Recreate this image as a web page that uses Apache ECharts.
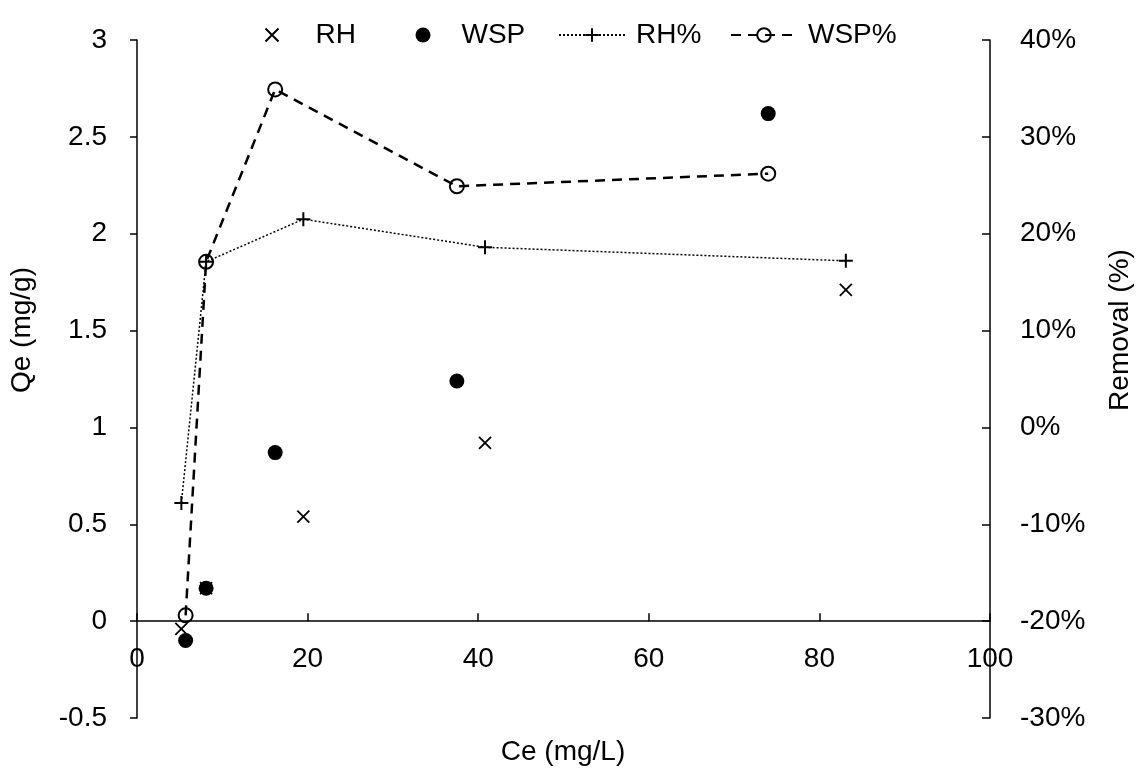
<!DOCTYPE html>
<html>
<head>
<meta charset="utf-8">
<script src="https://cdn.jsdelivr.net/npm/echarts@6/dist/echarts.min.js"></script>
<style>
html,body{margin:0;padding:0;background:#fff;}
#chart{width:1143px;height:773px;}
</style>
</head>
<body>
<div id="chart"></div>
<script>
// Data
const rhCe = [5.2, 8.1, 19.5, 40.8, 83.1];
const rhQe = [-0.04, 0.17, 0.54, 0.92, 1.71];
const rhRemoval = [-7.8, 17.1, 21.5, 18.6, 17.2];
const wspCe = [5.7, 8.1, 16.2, 37.5, 74.0];
const wspQe = [-0.10, 0.17, 0.87, 1.24, 2.62];
const wspRemoval = [-19.4, 17.1, 34.9, 24.9, 26.2];
const xTicks = { min: 0, max: 100, interval: 20 };
const qeTicks = { min: -0.5, max: 3, interval: 0.5 };
const remTicks = { min: -30, max: 40, interval: 10 };
const seriesNames = ['RH', 'WSP', 'RH%', 'WSP%'];

const pairs = (xs, ys) => xs.map((x, i) => [x, ys[i]]);
const FONT = 'Liberation Sans, Arial, sans-serif';
const FS = 28;
const crossPath = 'path://M0,0L10,10M10,0L0,10';
const plusPath = 'path://M5,0L5,10M0,5L10,5';

const GRID = { left: 137, right: 153, top: 40, bottom: 55 };
const plotH = 773 - GRID.top - GRID.bottom;
// x axis sits where Qe = 0
const zeroOffset = -plotH * (0 - qeTicks.min) / (qeTicks.max - qeTicks.min);

const chart = echarts.init(document.getElementById('chart'), null, { renderer: 'canvas' });
const lt = pad => ({ fontFamily: FONT, fontSize: FS, color: '#000', padding: [0, 0, 0, pad] });
chart.setOption({
  backgroundColor: '#fff',
  animation: false,
  grid: Object.assign({ containLabel: false }, GRID),
  legend: [
    { data: [seriesNames[0]], left: 264.5, top: 21, padding: 0, itemWidth: 13, itemHeight: 13, textStyle: lt(32) },
    { data: [seriesNames[1]], left: 415.5, top: 21, padding: 0, itemWidth: 15, itemHeight: 15, textStyle: lt(26) },
    { data: [seriesNames[2]], left: 558, top: 21, padding: 0, itemWidth: 66, itemHeight: 17, textStyle: lt(6) },
    { data: [seriesNames[3]], left: 730, top: 21, padding: 0, itemWidth: 66, itemHeight: 17, textStyle: lt(6) }
  ],
  xAxis: {
    type: 'value', min: xTicks.min, max: xTicks.max, interval: xTicks.interval,
    position: 'bottom', offset: zeroOffset,
    axisLine: { show: true, onZero: false, lineStyle: { color: '#000', width: 1.5 } },
    axisTick: { show: true, inside: true, length: 8, lineStyle: { color: '#000', width: 1.5 } },
    axisLabel: { color: '#000', fontFamily: FONT, fontSize: FS, margin: 24, showMinLabel: true, showMaxLabel: true },
    splitLine: { show: false }
  },
  yAxis: [
    {
      type: 'value', position: 'left', min: qeTicks.min, max: qeTicks.max, interval: qeTicks.interval,
      axisLine: { show: true, onZero: false, lineStyle: { color: '#000', width: 1.5 } },
      axisTick: { show: true, inside: false, length: 7, lineStyle: { color: '#000', width: 1.5 } },
      axisLabel: { color: '#000', fontFamily: FONT, fontSize: FS, margin: 30, formatter: v => String(v) },
      splitLine: { show: false }
    },
    {
      type: 'value', position: 'right', min: remTicks.min, max: remTicks.max, interval: remTicks.interval,
      axisLine: { show: true, onZero: false, lineStyle: { color: '#000', width: 1.5 } },
      axisTick: { show: true, inside: true, length: 8, lineStyle: { color: '#000', width: 1.5 } },
      axisLabel: { color: '#000', fontFamily: FONT, fontSize: FS, margin: 30, formatter: '{value}%' },
      splitLine: { show: false }
    }
  ],
  graphic: [
    { type: 'text', x: 563, y: 752, style: { text: 'Ce (mg/L)', font: FS + 'px ' + FONT, fill: '#000', align: 'center', verticalAlign: 'middle' } },
    { type: 'text', x: 22, y: 330, rotation: Math.PI / 2, style: { text: 'Qe (mg/g)', font: FS + 'px ' + FONT, fill: '#000', align: 'center', verticalAlign: 'middle' } },
    { type: 'text', x: 1120, y: 330, rotation: Math.PI / 2, style: { text: 'Removal (%)', font: FS + 'px ' + FONT, fill: '#000', align: 'center', verticalAlign: 'middle' } }
  ],
  series: [
    {
      name: seriesNames[0], type: 'scatter', xAxisIndex: 0, yAxisIndex: 0,
      data: pairs(rhCe, rhQe), symbol: crossPath, symbolSize: 12, symbolKeepAspect: true,
      itemStyle: { color: 'rgba(0,0,0,0)', borderColor: '#000', borderWidth: 1.8, opacity: 1 }, z: 3
    },
    {
      name: seriesNames[1], type: 'scatter', xAxisIndex: 0, yAxisIndex: 0,
      data: pairs(wspCe, wspQe), symbol: 'circle', symbolSize: 15,
      itemStyle: { color: '#000', opacity: 1 }, z: 4
    },
    {
      name: seriesNames[2], type: 'line', xAxisIndex: 0, yAxisIndex: 1,
      data: pairs(rhCe, rhRemoval), symbol: plusPath, symbolSize: 14, showAllSymbol: true,
      lineStyle: { color: '#000', width: 1.5, type: [2, 2] },
      itemStyle: { color: '#000', borderColor: '#000', borderWidth: 2, opacity: 1 }, z: 2
    },
    {
      name: seriesNames[3], type: 'line', xAxisIndex: 0, yAxisIndex: 1,
      data: pairs(wspCe, wspRemoval), symbol: 'circle', symbolSize: 14, showAllSymbol: true,
      lineStyle: { color: '#000', width: 2.5, type: [10, 7] },
      itemStyle: { color: 'rgba(255,255,255,0)', borderColor: '#000', borderWidth: 2, opacity: 1 }, z: 2
    }
  ]
});
</script>
</body>
</html>
